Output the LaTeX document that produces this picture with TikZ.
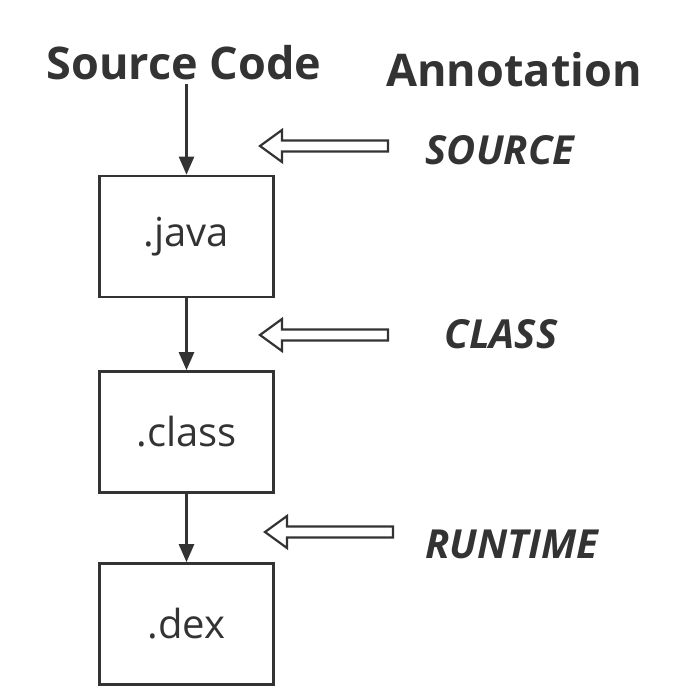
\documentclass[tikz,border=0pt]{standalone}
\usepackage{fontspec}
\setmainfont{Open Sans}
\usetikzlibrary{positioning,arrows.meta}
\definecolor{ink}{HTML}{333333}

\begin{document}
\begin{tikzpicture}[x=1pt, y=-1pt,
    every node/.style={text=ink},
    file/.style={draw=ink, line width=2.6pt, minimum width=174pt,
      minimum height=121pt, font=\fontsize{40}{44}\selectfont},
    head/.style={font=\bfseries\fontsize{45}{50}\selectfont},
    phase/.style={font=\bfseries\itshape\fontsize{40}{44}\selectfont},
    flow/.style={draw=ink, line width=2.4pt,
      -{Triangle[length=18pt,width=15pt]}},
    hollow/.pic={
      \draw[ink, line width=2.2pt] (0,0) -- (22,-16) -- (22,-5.5)
        -- (128,-5.5) -- (128,5.5) -- (22,5.5) -- (22,16) -- cycle;}]
    \useasboundingbox (0,0) rectangle (692,693);
    % headings
    \node[head, anchor=base] (src) at (184,80) {Source Code};
    \node[head, anchor=base] (anno) at (514,86) {Annotation};
    % files
    \node[file] (java) at (186.5,236.5) {.java};
    \node[file] (class) at (186.5,432) {.class};
    \node[file] (dex) at (186.5,624) {.dex};
    \draw[flow] (src.south -| java.north) -- (java);
    \draw[flow] (java) -- (class);
    \draw[flow] (class) -- (dex);
    % retention levels
    \node[phase, anchor=base] (lsource) at (500,164) {SOURCE};
    \node[phase, anchor=base] (lclass) at (501,348) {CLASS};
    \node[phase, anchor=base] (lruntime) at (512,558) {RUNTIME};
    \pic (msource) at (260,146) {hollow};
    \pic (mclass) at (260,335) {hollow};
    \pic (mruntime) at (265,532) {hollow};
\end{tikzpicture}
\end{document}
